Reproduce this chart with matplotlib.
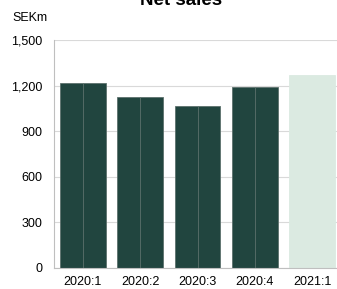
import numpy as np
import matplotlib
matplotlib.rcParams['font.family'] = 'Liberation Sans'
matplotlib.rcParams['font.size'] = 8
import matplotlib.pyplot as plt

quarters = ["2020:1", "2020:2", "2020:3", "2020:4", "2021:1"]
sales = [1215, 1127, 1066, 1193, 1270]
colors = ["#21453f", "#21453f", "#21453f", "#21453f", "#dbeae1"]
edges = ["#5c716c", "#5c716c", "#5c716c", "#5c716c", "#dbeae1"]

fig = plt.figure(figsize=(3.37, 2.89), dpi=100)
ax = fig.add_axes([54/337, 21/289, 287/337, 228/289])

x = np.arange(len(quarters))
ax.bar(x, sales, width=0.8, color=colors, edgecolor=edges, linewidth=0.6, zorder=2)
# thin centre line on the reported quarters
ax.vlines(x[:-1], 0, sales[:-1], color="#5c716c", linewidth=0.6, zorder=3)

ax.set_xlim(-0.5, 4.5)
ax.set_ylim(0, 1500)
ax.set_yticks([0, 300, 600, 900, 1200, 1500])
ax.set_yticklabels(["0", "300", "600", "900", "1,200", "1,500"])
ax.set_xticks(x)
ax.set_xticklabels(quarters)
ax.tick_params(length=0, labelsize=9, colors="#000000", pad=6)
ax.tick_params(axis='y', pad=8.5)

ax.grid(axis='y', color="#d9d9d9", linewidth=0.8, zorder=0)
for s in ["top", "right"]:
    ax.spines[s].set_visible(False)
ax.spines["left"].set_color("#bfbfbf")
ax.spines["bottom"].set_color("#bfbfbf")

fig.text(12/337, 1 - 18/289, "SEKm", fontsize=9, va="center", ha="left")
fig.text(181/337, 1 - 5/289, "Net sales", fontsize=13.5, fontweight="bold",
         va="baseline", ha="center")

fig.savefig("out.png", dpi=100)
